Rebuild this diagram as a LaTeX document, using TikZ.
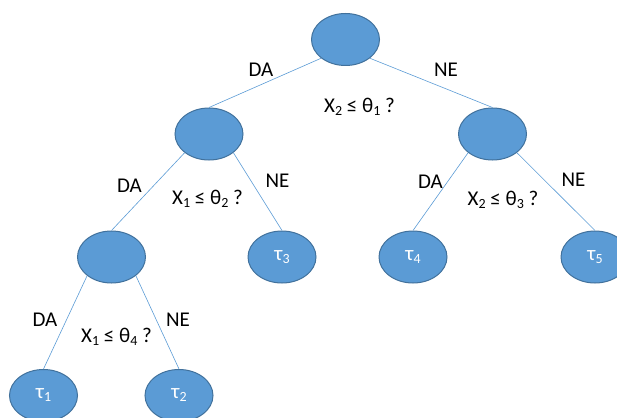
\documentclass[tikz,border=0pt]{standalone}
\usepackage{fontspec}
\setmainfont{Carlito}
\usetikzlibrary{shapes.geometric}
\definecolor{nodefill}{HTML}{5B9BD5}
\definecolor{nodeline}{HTML}{41719C}
\definecolor{edgecol}{HTML}{5B9BD5}
\newcommand{\sbx}[1]{\raisebox{-0.3ex}{\fontsize{14}{14}\selectfont #1}}
\begin{document}
\begin{tikzpicture}[x=1pt,y=-1pt,
  tnode/.style={ellipse,draw=nodeline,fill=nodefill,line width=1pt,
    minimum width=68pt,minimum height=52pt,inner sep=0pt,
    text=white,font=\fontsize{21}{21}\selectfont},
  edge/.style={draw=edgecol,line width=0.6pt},
  lbl/.style={anchor=base,inner sep=0pt,font=\fontsize{21}{21}\selectfont}]
\useasboundingbox (0,0) rectangle (617,417);
\clip (0,0) rectangle (617,417);
% nodes
\node[tnode] (root) at (345.5,39.5) {};
\node[tnode] (n2) at (209,134) {};
\node[tnode] (n3) at (492.5,134) {};
\node[tnode] (n4) at (111.5,257) {};
\node[tnode] (t3) at (282,257) {\raisebox{-5pt}{τ\sbx{3}}};
\node[tnode] (t4) at (413,257) {\raisebox{-5pt}{τ\sbx{4}}};
\node[tnode] (t5) at (595,257) {\raisebox{-5pt}{τ\sbx{5}}};
\node[tnode] (t1) at (43.5,395.5) {\raisebox{-5pt}{τ\sbx{1}}};
\node[tnode] (t2) at (179,395.5) {\raisebox{-5pt}{τ\sbx{2}}};
% edges
\draw[edge] (root.south west) -- (n2.north);
\draw[edge] (root.south east) -- (n3.north);
\draw[edge] (n2.south west) -- (n4.north);
\draw[edge] (n2.south east) -- (t3.north);
\draw[edge] (n3.south west) -- (t4.north);
\draw[edge] (n3.south east) -- (t5.north);
\draw[edge] (n4.south west) -- (t1.north);
\draw[edge] (n4.south east) -- (t2.north);
% labels
\node[lbl] (l1) at (261,77) {DA};
\node[lbl] (l2) at (446,77) {NE};
\node[lbl] (q1) at (359.5,112) {X\sbx{2} ≤ θ\sbx{1} ?};
\node[lbl] (l3) at (129.5,192) {DA};
\node[lbl] (l4) at (277.5,187) {NE};
\node[lbl] (q2) at (207.5,204) {X\sbx{1} ≤ θ\sbx{2} ?};
\node[lbl] (l5) at (430.5,188) {DA};
\node[lbl] (l6) at (573.5,186) {NE};
\node[lbl] (q3) at (503,205) {X\sbx{2} ≤ θ\sbx{3} ?};
\node[lbl] (l7) at (45,326) {DA};
\node[lbl] (l8) at (178,326) {NE};
\node[lbl] (q4) at (116.5,342) {X\sbx{1} ≤ θ\sbx{4} ?};
\end{tikzpicture}
\end{document}
